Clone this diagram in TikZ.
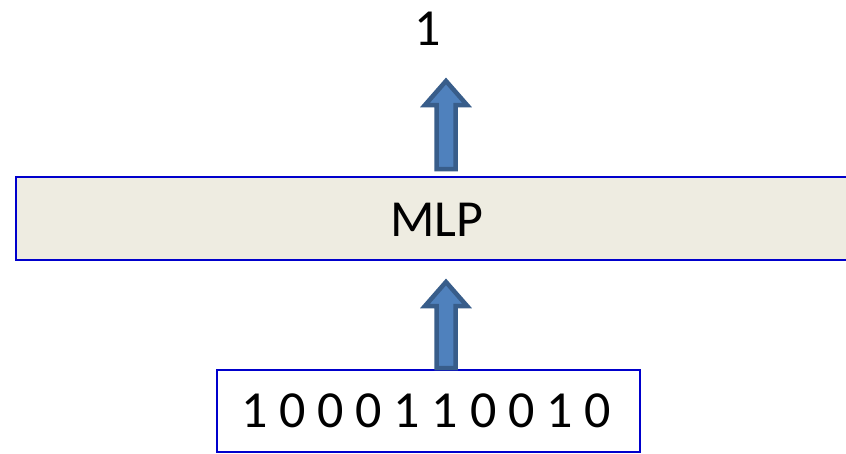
\documentclass[tikz,border=0pt]{standalone}
\usepackage{fontspec}
\setmainfont{Carlito}
\usetikzlibrary{calc}
\definecolor{boxblue}{HTML}{0000CC}
\definecolor{mlpfill}{HTML}{EEECE1}
\definecolor{arrfill}{HTML}{4F81BD}
\definecolor{arrline}{HTML}{385D8A}
\tikzset{
  lbl/.style={font=\fontsize{52}{60}\selectfont, inner sep=0pt},
  layerbox/.style={draw=boxblue, line width=2.5pt, fill=mlpfill},
  inbox/.style={draw=boxblue, line width=2pt, fill=white},
  blockarrow/.style={draw=arrline, fill=arrfill, line width=4.5pt, line join=miter},
}
\newcommand{\myblockarrow}[2]{% #1 = bottom coordinate, #2 = tip coordinate
  \draw[blockarrow] let \p1=(#1), \p2=(#2) in
    (\x1-9.5pt,\y1) -- (\x1-9.5pt,\y2-24pt) -- (\x1-21pt,\y2-24pt) -- (\x2,\y2)
    -- (\x1+21pt,\y2-24pt) -- (\x1+9.5pt,\y2-24pt) -- (\x1+9.5pt,\y1) -- cycle;}
\begin{document}
\begin{tikzpicture}[x=1pt,y=-1pt]
\useasboundingbox (0,0) rectangle (846,453);
\fill[white] (0,0) rectangle (846,453);
% MLP layer
\draw[layerbox] (16,177) rectangle (852,260);
\node[lbl] (mlp) at (437,220) {MLP};
% input box
\draw[inbox] (217,369.5) rectangle (640,452);
\node[lbl] (inp) at (426,411) {1 0 0 0 1 1 0 0 1 0};
% output
\node[lbl] (out) at (428,29) {1};
% arrows
\coordinate (a1b) at (446,169);
\coordinate (a1t) at (446,81);
\coordinate (a2b) at (446,368);
\coordinate (a2t) at (446,282);
\myblockarrow{a1b}{a1t}
\myblockarrow{a2b}{a2t}
\end{tikzpicture}
\end{document}
